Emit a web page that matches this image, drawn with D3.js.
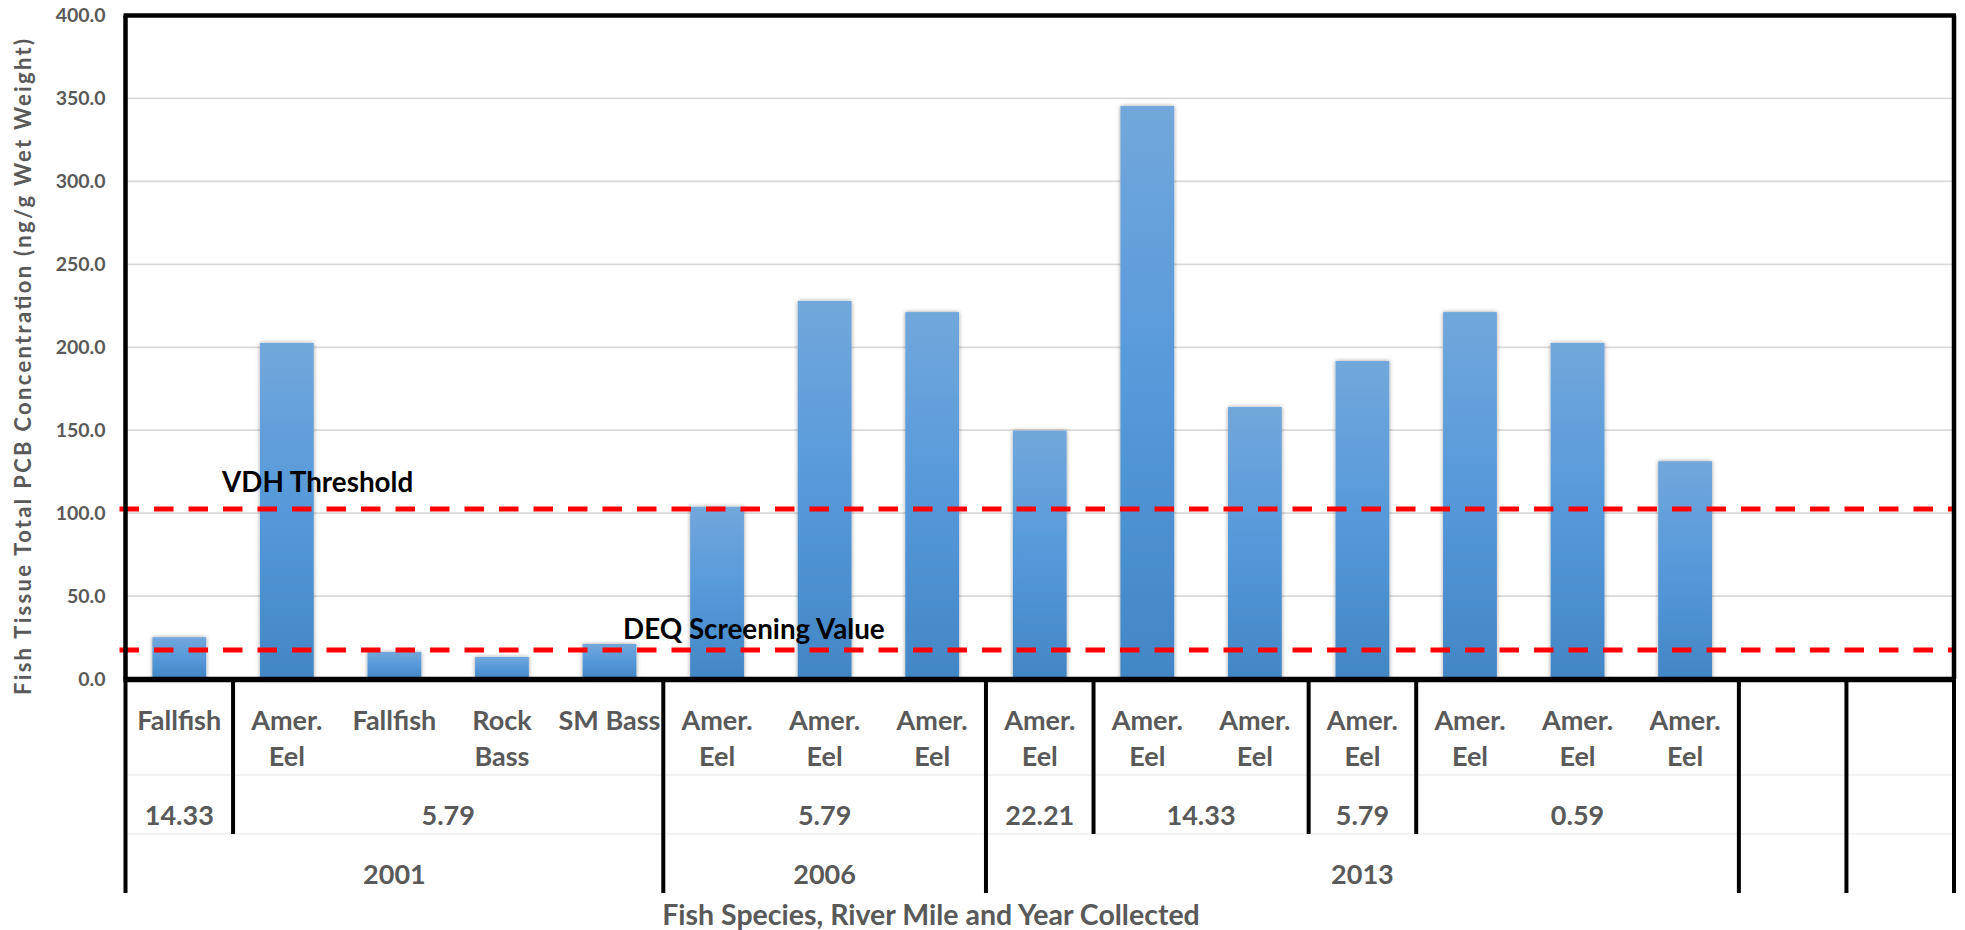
<!DOCTYPE html>
<html>
<head>
<meta charset="utf-8">
<script src="https://cdn.jsdelivr.net/npm/d3@7"></script>
<style>
  body { margin: 0; background: #fff; }
  svg { display: block; font-family: Lato, "Open Sans", sans-serif; }
</style>
</head>
<body>
<svg id="chart" width="1965" height="930"></svg>
<script>
// Fish tissue PCB results by species, river mile and collection year
const species = ["Fallfish", "Amer.\nEel", "Fallfish", "Rock\nBass", "SM Bass",
  "Amer.\nEel", "Amer.\nEel", "Amer.\nEel",
  "Amer.\nEel", "Amer.\nEel", "Amer.\nEel", "Amer.\nEel", "Amer.\nEel", "Amer.\nEel", "Amer.\nEel",
  "", ""];
const riverMiles = ["14.33", "5.79", "5.79", "5.79", "5.79",
  "5.79", "5.79", "5.79",
  "22.21", "14.33", "14.33", "5.79", "0.59", "0.59", "0.59",
  "", ""];
const years = ["2001", "2001", "2001", "2001", "2001",
  "2006", "2006", "2006",
  "2013", "2013", "2013", "2013", "2013", "2013", "2013",
  "", ""];
const pcbValues = [25.2, 202.6, 16.3, 13.3, 21.1,
  103.8, 227.9, 221.2,
  149.7, 345.4, 164.0, 191.7, 221.2, 202.6, 131.3,
  null, null];
const yTicks = [0, 50, 100, 150, 200, 250, 300, 350, 400];
const thresholdNames = ["VDH Threshold", "DEQ Screening Value"];
const thresholdValues = [102.5, 17.5];

const svg = d3.select("#chart");
const plotLeft = 125.5, plotRight = 1954, plotTop = 15.5, plotBottom = 679;
const textGray = "#595959";

const idx = d3.range(species.length);
const x = d3.scaleBand().domain(idx).range([plotLeft, plotRight]).paddingInner(0.5).paddingOuter(0.25);
const y = d3.scaleLinear().domain([0, 400]).range([plotBottom, plotTop]);
const step = x.step();
const edge = i => plotLeft + i * step;

// bar gradient and soft shadow
const defs = svg.append("defs");
const grad = defs.append("linearGradient").attr("id", "barFill")
  .attr("x1", 0).attr("y1", 0).attr("x2", 0).attr("y2", 1);
grad.append("stop").attr("offset", "0%").attr("stop-color", "#72a7db");
grad.append("stop").attr("offset", "50%").attr("stop-color", "#5599da");
grad.append("stop").attr("offset", "100%").attr("stop-color", "#4286c5");
const sh = defs.append("filter").attr("id", "barShadow")
  .attr("x", "-30%").attr("y", "-10%").attr("width", "160%").attr("height", "120%");
sh.append("feDropShadow").attr("dx", 0).attr("dy", 0).attr("stdDeviation", 2.2)
  .attr("flood-color", "#000").attr("flood-opacity", 0.38);

// horizontal gridlines
svg.append("g").selectAll("line").data(yTicks.filter(t => t > 0 && t < 400)).join("line")
  .attr("x1", plotLeft).attr("x2", plotRight)
  .attr("y1", d => y(d)).attr("y2", d => y(d))
  .attr("stroke", "#d9d9d9").attr("stroke-width", 1.75);

// bars
svg.append("g").selectAll("rect").data(idx.filter(i => pcbValues[i] != null)).join("rect")
  .attr("x", i => x(i)).attr("width", x.bandwidth())
  .attr("y", i => y(pcbValues[i])).attr("height", i => y(0) - y(pcbValues[i]))
  .attr("fill", "url(#barFill)").attr("filter", "url(#barShadow)");

// threshold lines
svg.append("g").selectAll("line").data(thresholdValues).join("line")
  .attr("x1", plotLeft - 6).attr("x2", plotRight - 2)
  .attr("y1", d => y(d)).attr("y2", d => y(d))
  .attr("stroke", "#ff0000").attr("stroke-width", 5)
  .attr("stroke-dasharray", "19.5 15");

// threshold annotations
const annX = [222, 623];
const annY = [491.5, 638.5];
svg.append("g").selectAll("text").data(thresholdNames).join("text")
  .attr("x", (d, i) => annX[i]).attr("y", (d, i) => annY[i])
  .attr("font-size", 27.8).attr("font-weight", 700).attr("fill", "#000")
  .text(d => d);

// y axis labels
const yAxis = d3.axisLeft(y).tickValues(yTicks).tickFormat(d3.format(".1f"))
  .tickSize(0).tickPadding(20);
const gy = svg.append("g").attr("transform", `translate(${plotLeft},0)`).call(yAxis);
gy.select(".domain").remove();
gy.selectAll("text").attr("font-family", "Lato, sans-serif").attr("font-size", 19.5)
  .attr("font-weight", 700).attr("fill", textGray);

// plot frame
const frame = svg.append("g").attr("stroke", "#000").attr("fill", "none");
frame.append("line").attr("x1", plotLeft - 2).attr("x2", plotRight + 2).attr("y1", plotTop).attr("y2", plotTop).attr("stroke-width", 4.5);
frame.append("line").attr("x1", plotRight).attr("x2", plotRight).attr("y1", plotTop).attr("y2", plotBottom).attr("stroke-width", 4.5);
frame.append("line").attr("x1", plotLeft).attr("x2", plotLeft).attr("y1", plotTop).attr("y2", plotBottom).attr("stroke-width", 4.5);

// category label rows: faint row dividers
const rowDividers = [775, 834];
svg.append("g").selectAll("line").data(rowDividers).join("line")
  .attr("x1", plotLeft).attr("x2", plotRight).attr("y1", d => d).attr("y2", d => d)
  .attr("stroke", "#e6e6e6").attr("stroke-width", 1.2);

// group separators: river mile level and year level
const yearEnd = 893, mileEnd = 834;
const groupKey = i => (years[i] === "" ? "blank" + i : years[i] + "|" + riverMiles[i]);
const yearKey = i => (years[i] === "" ? "blank" + i : years[i]);
const seps = [];
for (let i = 0; i <= species.length; i++) {
  if (i === 0 || i === species.length || yearKey(i) !== yearKey(i - 1)) seps.push({ i, end: yearEnd });
  else if (groupKey(i) !== groupKey(i - 1)) seps.push({ i, end: mileEnd });
}
svg.append("g").selectAll("line").data(seps).join("line")
  .attr("x1", d => edge(d.i)).attr("x2", d => edge(d.i))
  .attr("y1", plotBottom).attr("y2", d => d.end)
  .attr("stroke", "#000").attr("stroke-width", 4);

// bottom axis line
svg.append("line").attr("x1", plotLeft - 2).attr("x2", plotRight + 2)
  .attr("y1", plotBottom + 0.5).attr("y2", plotBottom + 0.5)
  .attr("stroke", "#000").attr("stroke-width", 5.5);

// species labels
const lab = svg.append("g").attr("font-size", 27).attr("font-weight", 700)
  .attr("fill", textGray).attr("text-anchor", "middle");
idx.forEach(i => {
  const lines = species[i].split("\n");
  lines.forEach((ln, k) => {
    if (!ln) return;
    lab.append("text").attr("x", x(i) + x.bandwidth() / 2).attr("y", 729.5 + k * 36.8).text(ln);
  });
});

// river mile and year group labels
function runs(keyFn, labels) {
  const out = [];
  idx.forEach(i => {
    const last = out[out.length - 1];
    if (last && last.key === keyFn(i)) last.end = i;
    else out.push({ key: keyFn(i), start: i, end: i, label: labels[i] });
  });
  return out.filter(r => r.label !== "");
}
const mid = r => (edge(r.start) + edge(r.end + 1)) / 2;
lab.selectAll(".mile").data(runs(groupKey, riverMiles)).join("text").attr("class", "mile")
  .attr("x", mid).attr("y", 825).text(d => d.label);
lab.selectAll(".year").data(runs(yearKey, years)).join("text").attr("class", "year")
  .attr("x", mid).attr("y", 883.5).text(d => d.label);

// axis titles
svg.append("text").attr("x", 931).attr("y", 925).attr("text-anchor", "middle")
  .attr("font-size", 28.5).attr("font-weight", 700).attr("fill", textGray)
  .text("Fish Species, River Mile and Year Collected");
svg.append("text").attr("transform", "translate(22,367) rotate(-90)")
  .attr("text-anchor", "middle").attr("dominant-baseline", "central")
  .attr("font-size", 22).attr("font-weight", 700).attr("fill", textGray)
  .attr("textLength", 656).attr("lengthAdjust", "spacing")
  .text("Fish Tissue Total PCB Concentration  (ng/g Wet Weight)");
</script>
</body>
</html>
